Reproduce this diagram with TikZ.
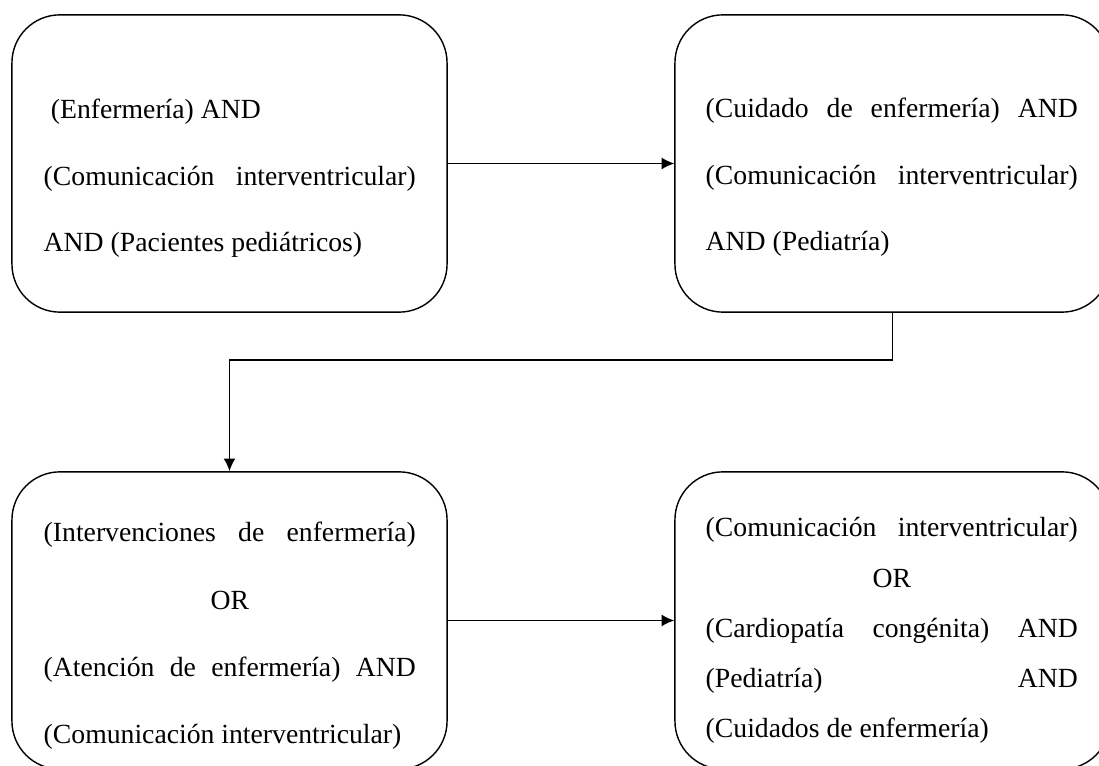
\documentclass[tikz,border=0pt]{standalone}
\usepackage{fontspec}
\setmainfont{Liberation Serif}
\usepackage{tikz}
\usetikzlibrary{arrows.meta, positioning}
\tolerance=10000
\hbadness=10000

\begin{document}
\begin{tikzpicture}[>={Latex[length=9pt,width=8.5pt]}, x=0.025cm, y=-0.025cm, line width=1pt,
    caja/.style={draw, rectangle, rounded corners=1.2cm, minimum width=10.875cm, minimum height=7.43cm},
    texto/.style={anchor=base west, inner sep=0pt, text width=9.3cm, align=justify}]
    % Marco de la figura
    \useasboundingbox (0,0) rectangle (1099,766);
    \clip (0,0) rectangle (1099,766);

    % Cajas de busqueda
    \node[caja] (c1) at (229.5,163.5) {};
    \node[caja] (c2) at (892.5,163.5) {};
    \node[caja] (c3) at (229.5,620.5) {};
    \node[caja] (c4) at (892.5,620.5) {};

    % Textos
    \node[texto, font=\fontsize{19.7pt}{1.65cm}\selectfont] (t1) at (43,119) {%
        \hspace*{0.18cm}(Enfermería) AND\\
        (Comunicación interventricular)\linebreak
        AND (Pacientes pediátricos)};
    \node[texto, font=\fontsize{19.7pt}{1.65cm}\selectfont] (t2) at (705,118) {%
        (Cuidado de enfermería) AND\linebreak
        (Comunicación interventricular)\linebreak
        AND (Pediatría)};
    \node[texto, font=\fontsize{19.7pt}{1.675cm}\selectfont] (t3) at (43,542) {%
        (Intervenciones de enfermería)\linebreak
        \null\hfill OR\hfill\null\\
        (Atención de enfermería) AND\linebreak
        (Comunicación interventricular)};
    \node[texto, font=\fontsize{19.7pt}{1.25cm}\selectfont] (t4) at (705,537) {%
        (Comunicación interventricular)\linebreak
        \null\hfill OR\hfill\null\\
        (Cardiopatía congénita) AND\linebreak
        (Pediatría) AND\linebreak
        (Cuidados de enfermería)};

    % Flechas
    \coordinate (giro) at (0,360);
    \draw[->] (c1) -- (c2);
    \draw[->] (c2.south) -- (c2.south |- giro) -| (c3.north);
    \draw[->] (c3) -- (c4);
\end{tikzpicture}
\end{document}
